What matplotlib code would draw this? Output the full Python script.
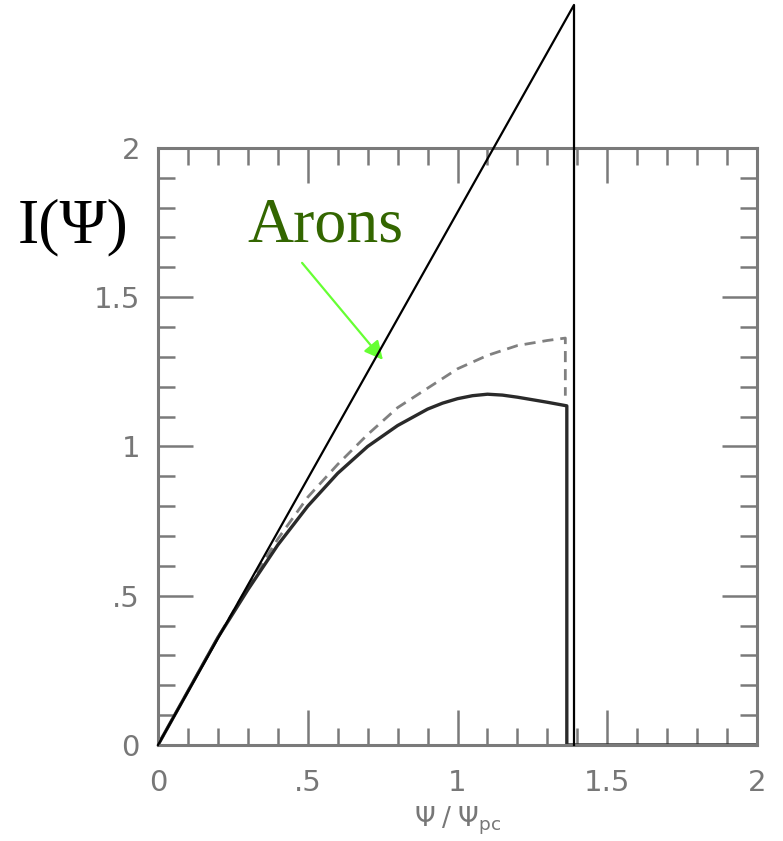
import matplotlib.pyplot as plt
from matplotlib.ticker import MultipleLocator

# current along the field line, two solutions plus the linear Arons limit
psi_solid = [0, 0.1, 0.2, 0.3, 0.4, 0.5, 0.6, 0.7, 0.8, 0.9, 0.95, 1.0, 1.05, 1.1, 1.15, 1.2, 1.3, 1.365, 1.365, 2.0]
cur_solid = [0, 0.18, 0.36, 0.52, 0.67, 0.80, 0.91, 1.00, 1.07, 1.125, 1.145, 1.16, 1.17, 1.175, 1.172, 1.165, 1.148, 1.136, 0, 0]

psi_dash = [0, 0.1, 0.2, 0.3, 0.4, 0.5, 0.6, 0.7, 0.8, 0.9, 1.0, 1.1, 1.2, 1.3, 1.36, 1.36]
cur_dash = [0, 0.18, 0.36, 0.53, 0.69, 0.83, 0.94, 1.04, 1.13, 1.195, 1.26, 1.305, 1.338, 1.355, 1.363, 1.17]

psi_arons = [0, 1.389, 1.389]
cur_arons = [0, 2.479, 0]

ticks = [0, 0.5, 1, 1.5, 2]
tick_labels = ['0', '.5', '1', '1.5', '2']

fig = plt.figure(figsize=(7.83, 8.41), dpi=100)
ax = fig.add_axes([0.2018, 0.1142, 0.765, 0.7099])

gray = '#7a7a7a'
ax.plot(psi_dash, cur_dash, color='#808080', lw=2, dashes=(4, 2.5))
ax.plot(psi_solid, cur_solid, color='#2a2a2a', lw=2.4)
ax.plot(psi_arons, cur_arons, color='black', lw=1.6, clip_on=False, zorder=5)

ax.set_xlim(0, 2)
ax.set_ylim(0, 2)
ax.set_xticks(ticks, tick_labels)
ax.set_yticks(ticks, tick_labels)
ax.xaxis.set_minor_locator(MultipleLocator(0.1))
ax.yaxis.set_minor_locator(MultipleLocator(0.1))
ax.tick_params(which='both', direction='in', top=True, right=True, color=gray,
               labelcolor='#777777', labelsize=21)
ax.tick_params(which='major', length=25, width=1.8)
ax.tick_params(which='minor', length=12, width=1.8)
ax.tick_params(axis='x', pad=17)
ax.tick_params(axis='y', pad=13)
for sp in ax.spines.values():
    sp.set_color(gray)
    sp.set_linewidth(2.2)

ax.set_xlabel(r'$\Psi\;/\;\Psi_{\rm pc}$', fontsize=19, color='#777777', labelpad=6)

fig.text(0.023, 0.712, 'I(\u03a8)', family='Liberation Serif', fontsize=46,
         color='black', ha='left', va='baseline')
ax.text(0.297, 1.685, 'Arons', family='Liberation Serif', fontsize=46,
        color='#336600', ha='left', va='baseline')
ax.annotate('', xy=(0.751, 1.29), xytext=(0.481, 1.615),
            arrowprops=dict(arrowstyle='-|>', color='#66ff33', lw=1.6,
                            mutation_scale=28, shrinkA=0, shrinkB=0))

fig.savefig('out.png', dpi=100)
